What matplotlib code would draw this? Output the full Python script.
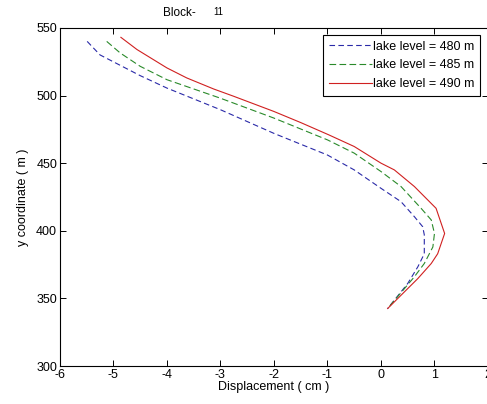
import numpy as np
import matplotlib
matplotlib.use('Agg')
import matplotlib.pyplot as plt

plt.rcParams['font.family'] = ['Liberation Sans', 'DejaVu Sans']
plt.rcParams['axes.unicode_minus'] = False

# 数据：位移 (cm) 与 y 坐标 (m)
x_480 = [-5.49, -5.25, -4.5, -4.0, -3.0, -2.0, -1.0, -0.5, 0.0, 0.375, 0.625, 0.78, 0.81, 0.81, 0.69, 0.5, 0.125]
y_480 = [540, 530, 514.7, 505.5, 489.5, 472, 456, 445, 431.4, 421.5, 410.4, 403, 397, 383, 373.4, 361, 342.5]

x_485 = [-5.125, -4.875, -4.5, -4.0, -3.0, -2.0, -1.0, -0.5, 0.0, 0.375, 0.75, 0.94, 1.0, 0.97, 0.81, 0.625, 0.125]
y_485 = [540, 531.5, 521.6, 511.7, 498, 483.3, 467.2, 457.4, 443.8, 432.7, 416.6, 408, 398, 388, 375.8, 366, 342.5]

x_490 = [-4.86, -4.56, -4.0, -3.63, -3.125, -2.75, -2.0, -1.5, -0.98, -0.5, 0.0, 0.25, 0.625, 1.03, 1.19, 1.06, 0.94, 0.69, 0.125]
y_490 = [543, 534, 520.4, 513, 504.8, 499.4, 488.2, 480, 471, 462.3, 450, 445, 432.7, 416.6, 398, 383, 375.8, 364.7, 342.5]

labels = ['lake level = 480 m', 'lake level = 485 m', 'lake level = 490 m']

fig = plt.figure(figsize=(4.87, 4.04), dpi=100)
ax = fig.add_axes([0.123, 0.094, 0.879, 0.837])

ax.plot(x_480, y_480, '--', color='#2a2aa8', lw=0.8, dashes=(5, 3), label=labels[0])
ax.plot(x_485, y_485, '--', color='#2a8a2a', lw=0.8, dashes=(6, 3), label=labels[1])
ax.plot(x_490, y_490, '-', color='#d02020', lw=0.8, label=labels[2])

ax.set_xlim(-6, 2)
ax.set_ylim(300, 550)
ax.set_xticks(range(-6, 3))
ax.set_yticks(range(300, 551, 50))
ax.tick_params(direction='in', length=4, width=0.7, labelsize=9, top=True, right=True, pad=2)
for s in ax.spines.values():
    s.set_linewidth(0.8)

ax.set_xlabel('Displacement ( cm )', fontsize=9, labelpad=0)
ax.set_ylabel('y coordinate ( m )', fontsize=9, labelpad=5)

fig.text(0.335, 0.967, 'Block-', fontsize=8.5, ha='left', va='center')
fig.text(0.437, 0.970, '11', fontsize=7, ha='left', va='center')

leg = ax.legend(loc='upper right', bbox_to_anchor=(0.981, 0.979), fontsize=9,
                fancybox=False, edgecolor='black', framealpha=1,
                handlelength=3.4, handletextpad=0.1, borderpad=0.45,
                labelspacing=0.55, borderaxespad=0)
leg.get_frame().set_linewidth(0.8)

fig.savefig('out.png', dpi=100)
